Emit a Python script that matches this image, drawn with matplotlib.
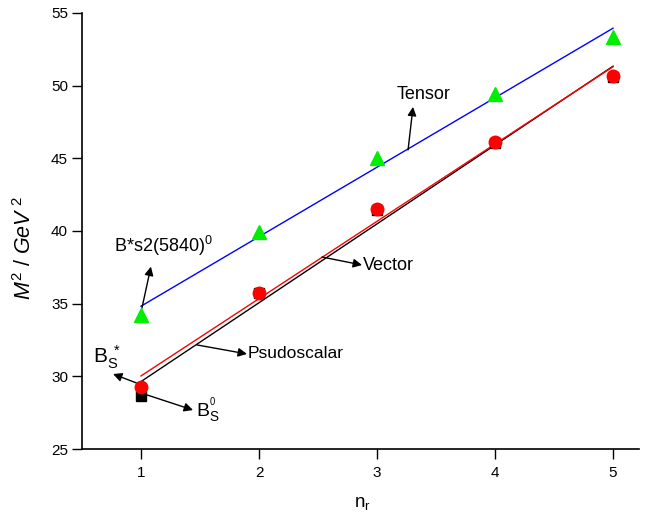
import numpy as np
import matplotlib
matplotlib.use("Agg")
import matplotlib.pyplot as plt

plt.rcParams['font.family'] = ['Liberation Sans', 'DejaVu Sans']
plt.rcParams['mathtext.fontset'] = 'custom'
plt.rcParams['mathtext.rm'] = 'Liberation Sans'
plt.rcParams['mathtext.it'] = 'Liberation Sans:italic'

n_r = [1, 2, 3, 4, 5]
tensor = [34.2, 39.93, 45.03, 49.43, 53.36]
vector = [29.27, 35.74, 41.52, 46.13, 50.67]
pseudoscalar = [28.65, 35.7, 41.45, 46.05, 50.6]
yticks = [25, 30, 35, 40, 45, 50, 55]
xticks = [1, 2, 3, 4, 5]

fig = plt.figure(figsize=(6.66, 5.25), dpi=100)
W, H = 666, 525
ax = fig.add_axes([82 / W, (H - 449) / H, (639 - 82) / W, (449 - 13) / H])

x = np.array(n_r, dtype=float)
xf = np.array([x.min(), x.max()])
for ys, col in [(pseudoscalar, 'black'), (vector, 'red'), (tensor, 'blue')]:
    p = np.polyfit(x, ys, 1)
    ax.plot(xf, np.polyval(p, xf), color=col, lw=1.0, zorder=2)

ax.plot(n_r, pseudoscalar, 's', color='black', ms=7, zorder=3)
ax.plot(n_r, vector, 'o', color='red', ms=9, mec='red', zorder=4)
ax.plot(n_r, tensor, '^', color='#00ee00', ms=9.5, mec='#00ee00', zorder=4)

ax.set_xlim(0.5, 5.22)
ax.set_ylim(25, 55)
ax.set_xticks(xticks)
ax.set_yticks(yticks)
ax.tick_params(direction='out', length=7, width=1, labelsize=11, pad=3)
ax.tick_params(axis='x', pad=5)
for s in ['top', 'right']:
    ax.spines[s].set_visible(False)
for s in ['left', 'bottom']:
    ax.spines[s].set_linewidth(1.2)

ax.set_xlabel(r'n$_\mathrm{r}$', fontsize=13.5)
ax.xaxis.set_label_coords((362 - 82) / 557, -(495 - 449) / 436)
ax.set_ylabel(r'$M^2$ / $GeV^{\ 2}$', fontsize=15.5)
ax.yaxis.set_label_coords(-(82 - 36) / 557, (449 - 248) / 436)

ap = dict(arrowstyle='-|>', color='black', lw=1.0, mutation_scale=13, shrinkA=0, shrinkB=0)

def arrow(tail, head):
    ax.annotate('', xy=head, xytext=tail, arrowprops=ap)

arrow((3.263, 45.58), (3.305, 48.54))
ax.text(3.398, 49.36, 'Tensor', fontsize=13, ha='center', va='center')

arrow((1.008, 34.7), (1.084, 37.55))
ax.text(0.77, 39.0, r'B*s2(5840)$^{0}$', fontsize=13, ha='left', va='center')

arrow((2.534, 38.21), (2.873, 37.66))
ax.text(2.88, 37.66, 'Vector', fontsize=13, ha='left', va='center')

arrow((1.475, 32.16), (1.898, 31.54))
ax.text(1.905, 31.6, 'Psudoscalar', fontsize=12.5, ha='left', va='center')

arrow((1.008, 29.4), (0.763, 30.16))
ax.text(0.59, 31.3, r'B$_\mathrm{S}^{\ *}$', fontsize=15, ha='left', va='center')

arrow((1.051, 28.72), (1.441, 27.68))
ax.text(1.47, 27.6, r'B$_\mathrm{S}^{{}^{0}}$', fontsize=14, ha='left', va='center')

fig.savefig('out.png', dpi=100)
